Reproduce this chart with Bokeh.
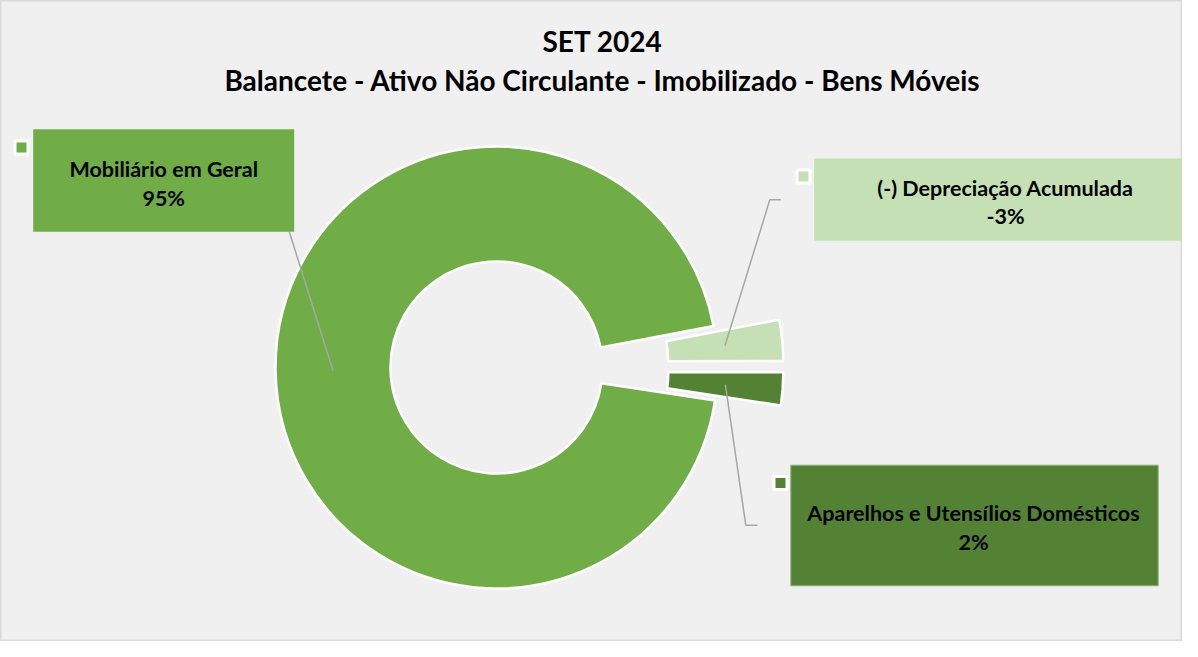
import math
from bokeh.plotting import figure
from bokeh.models import Range1d
from bokeh.core.properties import value
from bokeh.embed import file_html
from bokeh.resources import INLINE

# ---------------- data ----------------
title_lines = ["SET 2024", "Balancete - Ativo Não Circulante - Imobilizado - Bens Móveis"]
categories = ["Mobiliário em Geral", "(-) Depreciação Acumulada", "Aparelhos e Utensílios Domésticos"]
values = [94.6, -3.0, 2.4]
colors = ["#70ad47", "#c5e0b4", "#548235"]
exploded = [False, True, True]

# ---------------- layout (page pixels, y downward) ----------------
W, H = 1182, 641
OX, OY = 8, 8
CX, CY = 504, 375
R_OUT, R_IN = 221, 106
EXPLODE = 66
FIRST_SLICE = 98.6  # Excel convention: degrees clockwise from 12 o'clock

box_left = [40.7, 821.7, 798.3]
box_right = [301.7, 1204, 1165.7]
box_top = [136.7, 166, 472.7]
box_bottom = [239.3, 248.3, 593.3]
box_line = [None, None, "#8fb178"]
text_x = [171.2, 1013, 981]
text_y1 = [176.7, 195, 520.7]
text_y2 = [205, 223.3, 549.3]
key_pos = [(29, 155), (811, 184), (788, 490.5)]
elbow = [(296.7, 239), (777.3, 207.3), (753.3, 532.7)]
leader_end = [(296.7, 239), (788.3, 207.3), (765, 532.7)]

FONT = "Lato"
LABEL_SIZE = "21.5px"
TITLE_SIZE = "28px"
BG = "#f0f0f0"


def Y(py):
    return -py


p = figure(width=W, height=H, output_backend="svg", toolbar_location=None,
           x_range=Range1d(OX, OX + W), y_range=Range1d(Y(OY + H), Y(OY)),
           min_border=0)
p.axis.visible = False
p.grid.visible = False
p.background_fill_color = BG
p.border_fill_color = BG
p.outline_line_color = "#d9d9d9"
p.outline_line_width = 2

total = sum(abs(v) for v in values)
fracs = [abs(v) / total for v in values]
pct_labels = [f"{round(100 * v / total):.0f}%" for v in values]

cur = math.radians(90 - FIRST_SLICE)
centers = []
mids = []
for i, f in enumerate(fracs):
    a0 = cur
    a1 = cur - f * 2 * math.pi
    cur = a1
    mid = (a0 + a1) / 2
    d = EXPLODE if exploded[i] else 0
    cx = CX + d * math.cos(mid)
    cy = Y(CY) + d * math.sin(mid)
    centers.append((cx, cy))
    mids.append(mid)
    p.annular_wedge(x=cx, y=cy, inner_radius=R_IN, outer_radius=R_OUT,
                    start_angle=a1, end_angle=a0, direction="anticlock",
                    fill_color=colors[i], line_color="white", line_width=2.5)

# leader lines
r_mid = (R_IN + R_OUT) / 2
for i in range(len(values)):
    cx, cy = centers[i]
    sx = cx + r_mid * math.cos(mids[i])
    sy = cy + r_mid * math.sin(mids[i])
    xs = [sx, elbow[i][0], leader_end[i][0]]
    ys = [sy, Y(elbow[i][1]), Y(leader_end[i][1])]
    p.line(xs, ys, line_color="#a6a6a6", line_width=1.5)

# label boxes
for i in range(len(values)):
    p.quad(left=box_left[i], right=box_right[i], top=Y(box_top[i]), bottom=Y(box_bottom[i]),
           fill_color=colors[i], line_color=box_line[i], line_width=1)
    kx, ky = key_pos[i]
    p.quad(left=kx - 6.5, right=kx + 6.5, top=Y(ky - 6.5), bottom=Y(ky + 6.5),
           fill_color=colors[i], line_color="white", line_width=3)
    p.text(x=[text_x[i]], y=[Y(text_y1[i])], text=[categories[i]],
           text_font=value(FONT), text_font_style="bold", text_font_size=LABEL_SIZE,
           text_color="black", text_align="center", text_baseline="middle")
    p.text(x=[text_x[i]], y=[Y(text_y2[i])], text=[pct_labels[i]],
           text_font=value(FONT), text_font_style="bold", text_font_size=LABEL_SIZE,
           text_color="black", text_align="center", text_baseline="middle")

# title
title_y = [48, 87]
for t, ty in zip(title_lines, title_y):
    p.text(x=[610], y=[Y(ty)], text=[t], text_font=value(FONT), text_font_style="bold",
           text_font_size=TITLE_SIZE, text_color="black", text_align="center",
           text_baseline="middle")

open("out.html", "w").write(file_html(p, INLINE))
